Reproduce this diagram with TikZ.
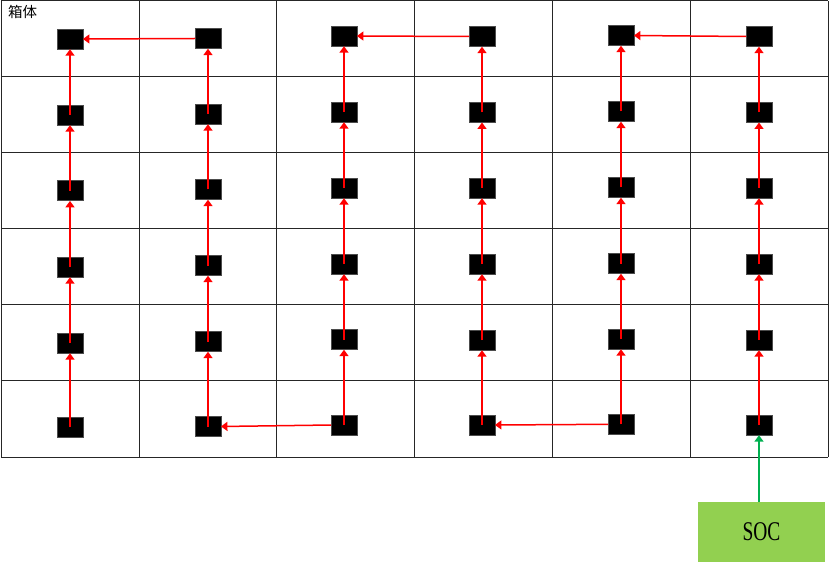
\documentclass[tikz,border=0pt]{standalone}
\usepackage{fontspec}
\setmainfont{Liberation Serif}
\newfontfamily\cjk{Noto Sans CJK SC}
\usetikzlibrary{arrows.meta}
\definecolor{socgreen}{HTML}{92D050}
\definecolor{arrowgreen}{HTML}{00B050}
\tikzset{
  cell/.style={inner sep=0pt, minimum width=25.5pt, minimum height=20pt, fill=black, draw=black!70, line width=0.4pt},
  flow/.style={draw=red, line width=1.5pt, -{Triangle[length=6.5pt,width=9pt]}},
  feed/.style={draw=arrowgreen, line width=1.5pt, -{Triangle[length=6.5pt,width=9pt]}},
  gridline/.style={draw=black!85, line width=1pt},
  socbox/.style={fill=socgreen, draw=none, minimum width=127pt, minimum height=60pt, inner sep=0pt, font=\fontsize{27}{30}\selectfont}
}
\begin{document}
\begin{tikzpicture}[x=1pt,y=-1pt]
\useasboundingbox (0,0) rectangle (830,564);
\fill[white] (0,0) rectangle (830,564);
% grid
\foreach \gx in {1,139.3,276.7,414.5,552,690,828}
  \draw[gridline] (\gx,1) -- (\gx,457);
\foreach \gy in {1,77,152.7,228.7,304.7,380.7,457}
  \draw[gridline] (1,\gy) -- (828,\gy);
\node[anchor=north west, inner sep=0pt, font=\cjk\fontsize{14.5}{16}\selectfont] (label) at (8,5.5) {箱体};
% boxes: column 1
\node[cell] (a1) at (70,39) {};
\node[cell] (a2) at (70,115) {};
\node[cell] (a3) at (70,190.7) {};
\node[cell] (a4) at (70,267) {};
\node[cell] (a5) at (70,343) {};
\node[cell] (a6) at (70,427) {};
% column 2
\node[cell] (b1) at (208,38.5) {};
\node[cell] (b2) at (208,114) {};
\node[cell] (b3) at (208,189.5) {};
\node[cell] (b4) at (208,265.5) {};
\node[cell] (b5) at (208,341.5) {};
\node[cell] (b6) at (208,426.5) {};
% column 3
\node[cell] (c1) at (344,36) {};
\node[cell] (c2) at (344,112) {};
\node[cell] (c3) at (344,188) {};
\node[cell] (c4) at (344,264) {};
\node[cell] (c5) at (344,339.5) {};
\node[cell] (c6) at (344,425) {};
% column 4
\node[cell] (d1) at (482,36.5) {};
\node[cell] (d2) at (482,112.3) {};
\node[cell] (d3) at (482,188) {};
\node[cell] (d4) at (482,264) {};
\node[cell] (d5) at (482,340) {};
\node[cell] (d6) at (482,425) {};
% column 5
\node[cell] (e1) at (621,35.5) {};
\node[cell] (e2) at (621,111.5) {};
\node[cell] (e3) at (621,187.5) {};
\node[cell] (e4) at (621,263.5) {};
\node[cell] (e5) at (621,339) {};
\node[cell] (e6) at (621,424.3) {};
% column 6
\node[cell] (f1) at (759,36.5) {};
\node[cell] (f2) at (759,112.3) {};
\node[cell] (f3) at (759,188) {};
\node[cell] (f4) at (759,264) {};
\node[cell] (f5) at (759,340) {};
\node[cell] (f6) at (759,425) {};
% SOC
\node[socbox] (soc) at (761.5,531.7) {\scalebox{0.72}[1]{SOC}};
\coordinate (socin) at (soc.north -| f6.south);
% vertical arrows
\foreach \c in {a,b,c,d,e,f}{
  \draw[flow] (\c6.center) -- (\c5.south);
  \draw[flow] (\c5.center) -- (\c4.south);
  \draw[flow] (\c4.center) -- (\c3.south);
  \draw[flow] (\c3.center) -- (\c2.south);
  \draw[flow] (\c2.center) -- (\c1.south);
}
% horizontal arrows
\draw[flow] (b1.west) -- (a1.east);
\draw[flow] (d1.west) -- (c1.east);
\draw[flow] (f1.west) -- (e1.east);
\draw[flow] (c6.west) -- (b6.east);
\draw[flow] (e6.west) -- (d6.east);
% SOC feed
\draw[feed] (socin) -- (f6.south);
\end{tikzpicture}
\end{document}
